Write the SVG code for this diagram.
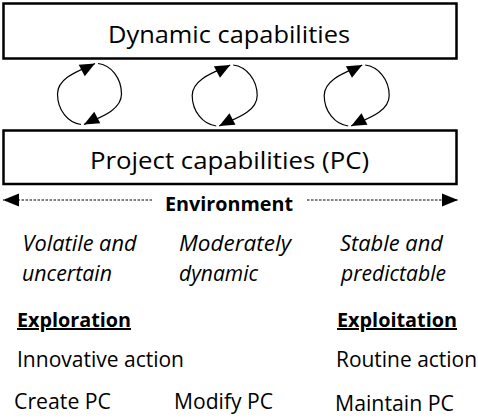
<svg xmlns="http://www.w3.org/2000/svg" width="478" height="419" viewBox="0 0 478 419">
  <style>
    .box { fill: #ffffff; stroke: #000000; stroke-width: 2.5; }
    .lbl { font-family: "Open Sans", "Liberation Sans", sans-serif; fill: #000000; }
    .big { font-size: 24px; }
    .txt { font-size: 21px; }
    .it { font-size: 21px; font-style: italic; }
    .bold { font-weight: bold; font-size: 20px; }
    .loop { fill: none; stroke: #000000; stroke-width: 1.2; marker-end: url(#loopHead); }
    .env { fill: none; stroke: #000000; stroke-width: 1; stroke-dasharray: 2.5 1.5; marker-end: url(#envHead); }
  </style>
  <defs>
    <marker id="loopHead" markerUnits="userSpaceOnUse" viewBox="0 0 15 13" markerWidth="15" markerHeight="13" refX="15" refY="6.5" orient="auto" overflow="visible">
      <path d="M0,0 L15,6.5 L0,13 Z" fill="#000000" stroke="none"/>
    </marker>
    <marker id="envHead" markerUnits="userSpaceOnUse" viewBox="0 0 16 13" markerWidth="16" markerHeight="13" refX="16" refY="6.5" orient="auto" overflow="visible">
      <path d="M0,0 L16,6.5 L0,13 Z" fill="#000000" stroke="none"/>
    </marker>
  </defs>

  <g id="dynamic-capabilities">
    <rect class="box" x="3.5" y="3.5" width="453" height="55"/>
    <text class="lbl big" x="108" y="43" textLength="242" lengthAdjust="spacingAndGlyphs">Dynamic capabilities</text>
  </g>

  <g id="project-capabilities">
    <rect class="box" x="3.5" y="130.5" width="453" height="53.5"/>
    <text class="lbl big" x="90" y="168.5" textLength="279" lengthAdjust="spacingAndGlyphs">Project capabilities (PC)</text>
  </g>

  <g id="connectors">
    <g transform="translate(89.5,94)">
      <path class="loop" d="M -8.5 30.5 C -21.5 29, -32 16, -32 0 C -32 -18, -5.1 -24.9, 5.5 -30.5"/>
      <path class="loop" d="M 8.5 -30.5 C 21.5 -29, 32 -16, 32 0 C 32 18, 5.1 24.9, -5.5 30.5"/>
    </g>
    <g transform="translate(224.7,95.5)">
      <path class="loop" d="M -8.5 30.5 C -21.5 29, -32.5 16, -32.5 0 C -32.5 -18, -5.1 -24.9, 5.5 -30.5"/>
      <path class="loop" d="M 8.5 -30.5 C 21.5 -29, 32.5 -16, 32.5 0 C 32.5 18, 5.1 24.9, -5.5 30.5"/>
    </g>
    <g transform="translate(356.7,95.5)">
      <path class="loop" d="M -8.5 30.5 C -21.5 29, -32.5 16, -32.5 0 C -32.5 -18, -5.1 -24.9, 5.5 -30.5"/>
      <path class="loop" d="M 8.5 -30.5 C 21.5 -29, 32.5 -16, 32.5 0 C 32.5 18, 5.1 24.9, -5.5 30.5"/>
    </g>
    <path class="env" d="M152,200 L3,200"/>
    <path class="env" d="M307,200 L458,200"/>
  </g>

  <g id="environment">
    <text class="lbl bold" x="165" y="211" textLength="128" lengthAdjust="spacingAndGlyphs">Environment</text>
  </g>

  <g id="volatile">
    <text class="lbl it" x="22.5" y="251" textLength="114" lengthAdjust="spacingAndGlyphs">Volatile and</text>
    <text class="lbl it" x="22" y="281" textLength="90" lengthAdjust="spacingAndGlyphs">uncertain</text>
  </g>
  <g id="moderately">
    <text class="lbl it" x="179" y="251" textLength="112" lengthAdjust="spacingAndGlyphs">Moderately</text>
    <text class="lbl it" x="179" y="281" textLength="79" lengthAdjust="spacingAndGlyphs">dynamic</text>
  </g>
  <g id="stable">
    <text class="lbl it" x="340" y="251" textLength="103" lengthAdjust="spacingAndGlyphs">Stable and</text>
    <text class="lbl it" x="341" y="281" textLength="105" lengthAdjust="spacingAndGlyphs">predictable</text>
  </g>

  <g id="exploration">
    <text class="lbl bold" x="17" y="327" textLength="114" lengthAdjust="spacingAndGlyphs" text-decoration="underline">Exploration</text>
    <text class="lbl txt" x="17" y="367" textLength="167" lengthAdjust="spacingAndGlyphs">Innovative action</text>
  </g>
  <g id="exploitation">
    <text class="lbl bold" x="337" y="327" textLength="120" lengthAdjust="spacingAndGlyphs" text-decoration="underline">Exploitation</text>
    <text class="lbl txt" x="336" y="367" textLength="141" lengthAdjust="spacingAndGlyphs">Routine action</text>
  </g>

  <g id="create-pc">
    <text class="lbl txt" x="14" y="409" textLength="97" lengthAdjust="spacingAndGlyphs">Create PC</text>
  </g>
  <g id="modify-pc">
    <text class="lbl txt" x="174" y="409" textLength="99" lengthAdjust="spacingAndGlyphs">Modify PC</text>
  </g>
  <g id="maintain-pc">
    <text class="lbl txt" x="335" y="411" textLength="119" lengthAdjust="spacingAndGlyphs">Maintain PC</text>
  </g>
</svg>
